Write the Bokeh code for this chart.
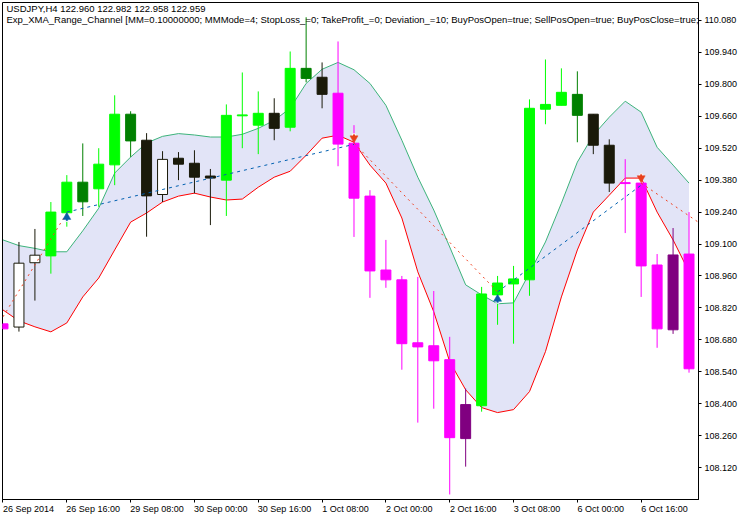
from bokeh.plotting import figure
from bokeh.models import Range1d, FixedTicker, Label, PrintfTickFormatter, ColumnDataSource, LinearAxis
from bokeh.embed import file_html
from bokeh.resources import INLINE

LIME, DKGREEN, MAG, PURPLE, DARK, HOLLOW = "#00ff00", "#008000", "#ff00ff", "#800080", "#1a1a0a", "#ffffff"

tops = [108.750,109.016,109.051,109.240,109.371,109.371,109.450,109.669,109.669,109.555,109.471,109.476,109.454,109.398,109.664,109.666,109.673,109.673,109.870,109.870,109.831,109.761,109.542,109.310,108.986,108.943,108.667,108.654,108.593,108.396,108.881,108.929,108.947,109.695,109.712,109.765,109.756,109.669,109.533,109.369,109.367,109.008,109.052,109.056]
bottoms = [108.728,108.736,109.018,109.048,109.237,109.285,109.342,109.447,109.552,109.311,109.317,109.450,109.393,109.389,109.380,109.662,109.621,109.607,109.612,109.826,109.756,109.538,109.301,108.982,108.943,108.663,108.649,108.588,108.251,108.247,108.391,108.877,108.925,108.943,109.691,109.708,109.664,109.533,109.367,109.365,109.004,108.728,108.724,108.553]
highs = [108.750,109.109,109.166,109.284,109.402,109.541,109.520,109.752,109.682,109.586,109.507,109.503,109.511,109.429,109.712,109.852,109.769,109.739,109.944,110.094,109.896,109.988,109.621,109.336,109.118,108.960,108.956,108.894,108.693,108.466,108.912,108.960,109.004,109.734,109.909,109.870,109.857,109.669,109.559,109.472,109.367,109.056,109.170,109.240]
lows = [108.728,108.716,108.852,108.970,109.176,109.223,109.263,109.358,109.482,109.132,109.284,109.380,109.322,109.183,109.223,109.520,109.494,109.555,109.594,109.809,109.695,109.441,109.131,108.864,108.908,108.549,108.317,108.378,108.002,108.124,108.365,108.746,108.663,108.873,109.625,109.708,109.546,109.494,109.328,109.148,108.868,108.645,108.706,108.536]
kinds = [MAG,HOLLOW,HOLLOW,LIME,LIME,DKGREEN,LIME,LIME,DKGREEN,DARK,HOLLOW,DARK,DARK,DARK,LIME,LIME,LIME,DARK,LIME,DKGREEN,DARK,MAG,MAG,MAG,MAG,MAG,MAG,MAG,MAG,PURPLE,LIME,LIME,LIME,LIME,LIME,LIME,DKGREEN,DARK,DARK,MAG,MAG,MAG,PURPLE,MAG]

channel_upper = [109.118,109.093,109.081,109.066,109.066,109.158,109.257,109.411,109.481,109.543,109.572,109.584,109.578,109.569,109.569,109.581,109.607,109.642,109.695,109.804,109.866,109.896,109.864,109.804,109.708,109.555,109.393,109.249,109.087,108.921,108.877,108.838,108.842,108.973,109.109,109.279,109.459,109.577,109.656,109.726,109.678,109.524,109.446,109.367]
channel_lower = [108.811,108.763,108.737,108.715,108.754,108.868,108.951,109.074,109.196,109.236,109.284,109.310,109.323,109.306,109.293,109.297,109.349,109.393,109.419,109.489,109.564,109.577,109.546,109.446,109.367,109.214,108.978,108.803,108.584,108.461,108.383,108.361,108.374,108.453,108.628,108.868,109.074,109.240,109.314,109.389,109.389,109.240,109.118,108.978]

loss_x = [[0,4],[22,31],[40,43.575]]
loss_y = [[108.781,109.236],[109.542,108.890],[109.367,109.196]]
win_x = [[4,22],[31,40]]
win_y = [[109.240,109.537],[108.890,109.358]]
buy_x, buy_y = [4,31], [109.218,108.859]
sell_x, sell_y = [22,40], [109.564,109.389]

y_ticks = [108.12,108.26,108.40,108.54,108.68,108.82,108.96,109.10,109.24,109.38,109.52,109.66,109.80,109.94,110.08]
x_ticks = [0,4,8,12,16,20,24,28,32,36,40]
x_labels = ["26 Sep 2014","26 Sep 16:00","29 Sep 08:00","30 Sep 00:00","30 Sep 16:00","1 Oct 08:00","2 Oct 00:00","2 Oct 16:00","3 Oct 08:00","6 Oct 00:00","6 Oct 16:00"]
x_label_spots = [1.6,5.65,9.65,13.65,17.65,21.47,25.47,29.47,33.47,37.47,41.47]
title_1 = "USDJPY,H4  122.960 122.982 122.958 122.959"
title_2 = "Exp_XMA_Range_Channel [MM=0.10000000; MMMode=4; StopLoss_=0; TakeProfit_=0; Deviation_=10; BuyPosOpen=true; SellPosOpen=true; BuyPosClose=true;"

FONT = "Liberation Sans"
n = len(tops)
xs = list(range(n))

p = figure(width=740, height=516, output_backend="svg", toolbar_location=None,
           x_range=Range1d(-0.03125, 43.59375), y_range=Range1d(107.98, 110.15875),
           y_axis_location="right", min_border_left=2, min_border_top=2, min_border_right=40, min_border_bottom=16)
p.grid.visible = False
p.background_fill_color = "white"
p.outline_line_color = "black"
p.outline_line_width = 1

ya = p.yaxis[0]
ya.ticker = FixedTicker(ticks=y_ticks)
ya.formatter = PrintfTickFormatter(format="%.3f")
ya.major_tick_in, ya.major_tick_out, ya.minor_tick_out, ya.minor_tick_in = 0, 3, 0, 0
ya.major_label_standoff = 3
ya.major_label_text_font = FONT
ya.major_label_text_font_size = "9px"
ya.major_label_text_color = "black"
ya.axis_line_color = "black"

xa = p.xaxis[0]
xa.ticker = FixedTicker(ticks=x_ticks)
xa.major_label_overrides = {t: "" for t in x_ticks}
xa.major_tick_in, xa.major_tick_out, xa.minor_tick_out, xa.minor_tick_in = 0, 3, 0, 0
xa.axis_line_color = "black"
xa.major_label_text_font_size = "1px"
xa.major_label_standoff = 0

xl = LinearAxis(ticker=FixedTicker(ticks=x_label_spots),
                major_label_overrides=dict(zip(x_label_spots, x_labels)))
xl.axis_line_color = None
xl.major_tick_line_color = None
xl.minor_tick_line_color = None
xl.major_tick_in, xl.major_tick_out, xl.minor_tick_in, xl.minor_tick_out = 0, 0, 0, 0
xl.major_label_standoff = 1
xl.major_label_text_font = FONT
xl.major_label_text_font_size = "9px"
xl.major_label_text_color = "black"
p.add_layout(xl, "below")

p.varea(x=xs, y1=channel_lower, y2=channel_upper, fill_color="#e2e4f7")
p.line(xs, channel_upper, line_color="#3cb37a", line_width=1)
p.line(xs, channel_lower, line_color="#ff0000", line_width=1)

src = ColumnDataSource(dict(x=xs, top=tops, bottom=bottoms, high=highs, low=lows, color=kinds,
    line=[DARK if k == HOLLOW else k for k in kinds]))
p.segment(x0="x", x1="x", y0="low", y1="high", line_color="line", line_width=1, source=src)
p.vbar(x="x", width=0.625, top="top", bottom="bottom", fill_color="color", line_color="line", line_width=1, source=src)

p.multi_line(loss_x, loss_y, line_color="#f04020", line_width=1, line_dash="2 4")
p.multi_line(win_x, win_y, line_color="#0060b0", line_width=1, line_dash="3 4")

ARROW_STEM = 0.012
p.scatter(buy_x, [v - ARROW_STEM for v in buy_y], marker="square", size=3, fill_color="#0a5ea8", line_color="white", line_width=1)
p.scatter(sell_x, [v + ARROW_STEM for v in sell_y], marker="square", size=3, fill_color="#e8401c", line_color="white", line_width=1)
p.scatter(buy_x, buy_y, marker="triangle", size=8, fill_color="#0a5ea8", line_color="#0a5ea8", line_width=0.5)
p.scatter(sell_x, sell_y, marker="inverted_triangle", size=8, fill_color="#e8401c", line_color="#e8401c", line_width=0.5)

for yy, s in ((491, title_1), (480, title_2)):
    p.add_layout(Label(x=4, y=yy, x_units="screen", y_units="screen", text=s, text_font=FONT, text_font_size="9.5px",
                       text_color="black", text_align="left", text_baseline="alphabetic", level="overlay"))

open("out.html", "w").write(file_html(p, INLINE))
